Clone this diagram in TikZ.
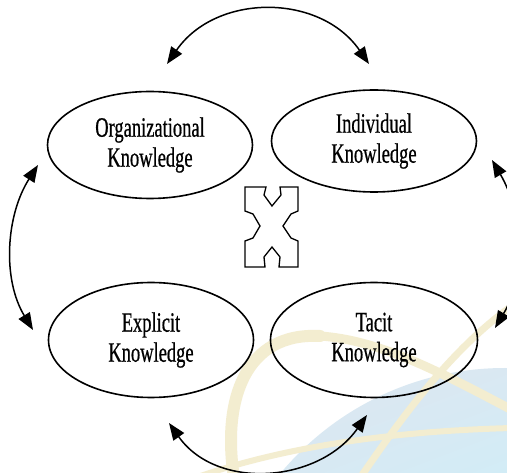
\documentclass[tikz,border=0pt]{standalone}
\usepackage{fontspec}
\newfontfamily\condfont[FakeStretch=0.66,FakeBold=0.6]{Liberation Serif}
\usetikzlibrary{arrows.meta,shapes.geometric,shadings}
\definecolor{bgblueA}{RGB}{224,228,238}
\definecolor{bgblueB}{RGB}{210,236,246}
\definecolor{bgblueC}{RGB}{218,232,242}
\definecolor{cream}{RGB}{243,237,208}
\begin{document}
\begin{tikzpicture}[x=1pt,y=-1pt,
  know/.style={ellipse, draw=black, line width=1.6pt, inner sep=0pt, align=center,
    font=\condfont\fontsize{28}{30}\selectfont},
  conn/.style={line width=1.5pt, {Triangle[length=17pt,width=13pt]}-{Triangle[length=17pt,width=13pt]}},
  band/.style={draw=cream, line cap=round}]
\useasboundingbox (0,0) rectangle (507,473);
\clip (0,0) rectangle (507,473);
\fill[white] (0,0) rectangle (507,473);
% background watermark
\begin{scope}
  \clip (505,660) circle (292pt);
  \shade[upper left=bgblueA, upper right=bgblueC, lower left=bgblueC, lower right=bgblueB]
    (210,360) rectangle (507,473);
\end{scope}
\draw[band, line width=12pt] (234,478) .. controls (222,400) and (245,332) .. (320,336);
\draw[band, line width=9pt] (320,336) .. controls (380,340) and (440,372) .. (512,410);
\draw[band, line width=7pt] (360,478) .. controls (400,420) and (450,350) .. (512,306);
\draw[band, line width=6pt] (195,478) .. controls (260,455) and (360,432) .. (512,428);
% ellipses
\node[know, minimum width=205pt, minimum height=107pt] (org) at (150,145) {Organizational\\Knowledge};
\node[know, minimum width=205pt, minimum height=102pt] (ind) at (374,141) {Individual\\Knowledge};
\node[know, minimum width=205pt, minimum height=115pt] (exp) at (151,340) {Explicit\\Knowledge};
\node[know, minimum width=207pt, minimum height=115pt] (tac) at (374,340) {Tacit\\Knowledge};
% arrow endpoints
\coordinate (tA) at (167,64);
\coordinate (tB) at (369,64);
\coordinate (bA) at (169,423);
\coordinate (bB) at (367,415);
\coordinate (lA) at (38,165);
\coordinate (lB) at (33,330);
\coordinate (rA) at (492,160);
\coordinate (rB) at (495,328);
\draw[conn] (tA) .. controls (216,-7) and (320,-7) .. (tB);
\draw[conn] (bA) .. controls (217,491) and (319,483) .. (bB);
\draw[conn] (lA) .. controls (6,215) and (2,279) .. (lB);
\draw[conn] (rA) .. controls (523,213) and (526,276) .. (rB);
% central four-way arrow
\begin{scope}[shift={(245,187)}]
  \draw[line width=1.3pt, line join=miter, fill=white]
    (0,0) -- (21,0) -- (19,8) -- (27,19) -- (36,8) -- (35,0) -- (53,0) -- (53,24)
    -- (46,27) -- (38,39) -- (46,51) -- (53,54) -- (53,80) -- (34,80) -- (35,70)
    -- (27,60) -- (19,70) -- (20,80) -- (0,80) -- (0,54) -- (8,51) -- (15,39)
    -- (8,27) -- (0,24) -- cycle;
\end{scope}
\end{tikzpicture}
\end{document}
